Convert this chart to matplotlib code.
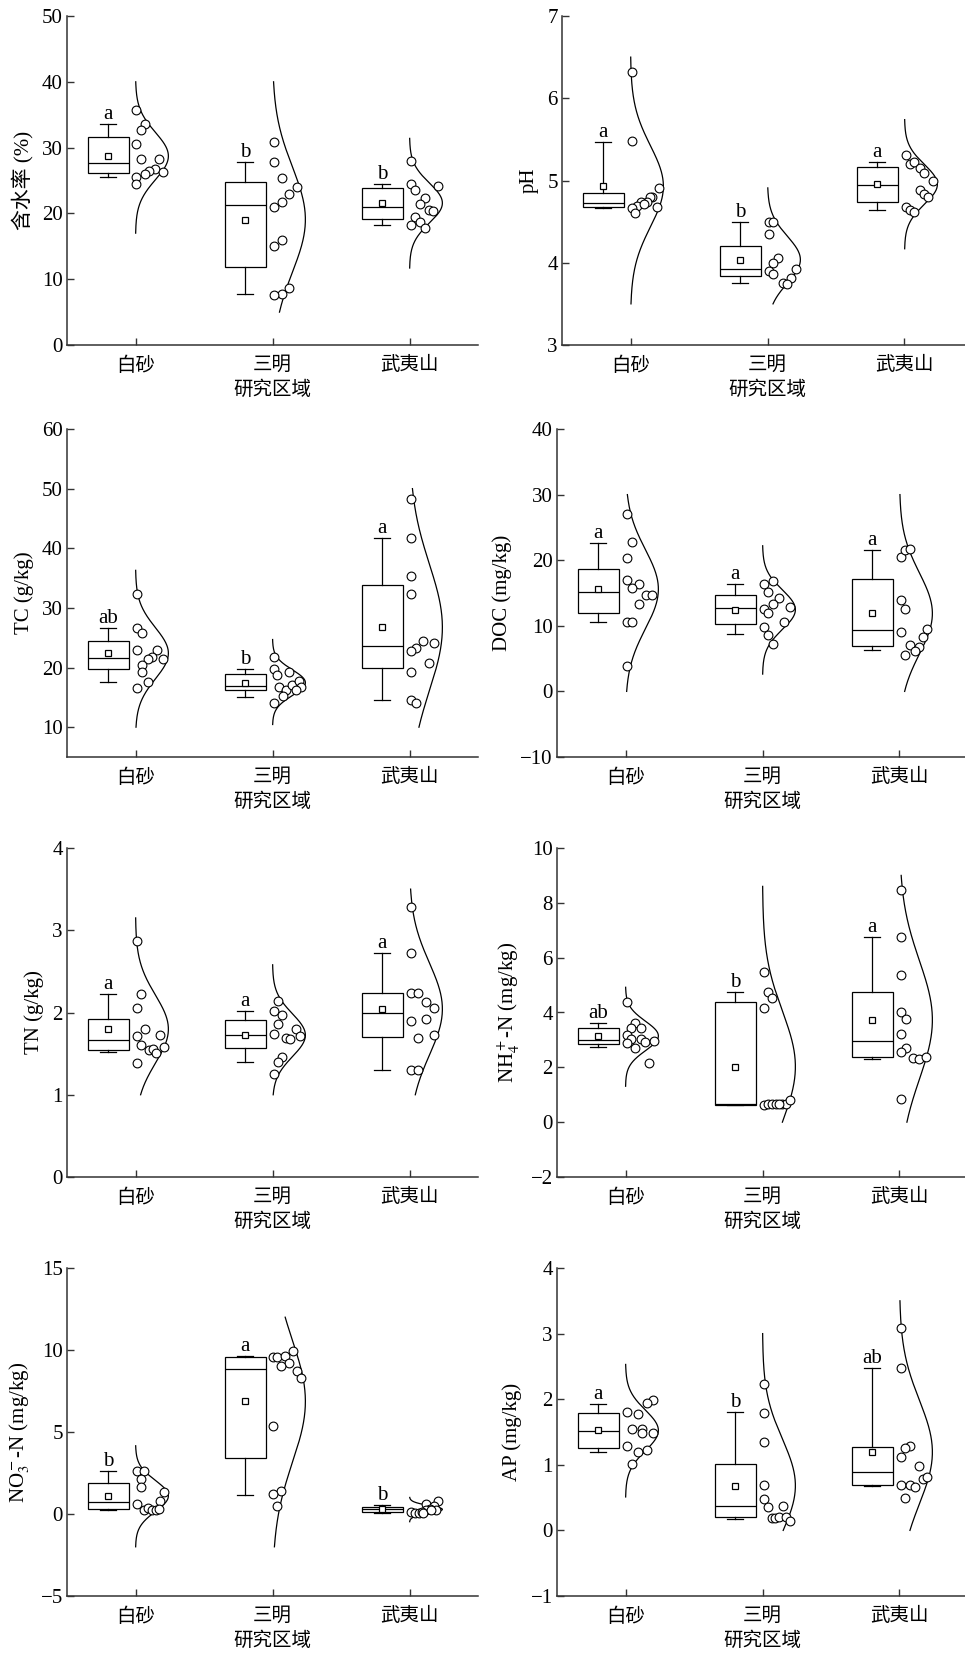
import numpy as np
import matplotlib
matplotlib.use('Agg')
import matplotlib.pyplot as plt

plt.rcParams['font.family'] = ['Liberation Serif', 'Noto Sans CJK SC']
plt.rcParams['mathtext.fontset'] = 'stix'
plt.rcParams['font.size'] = 14

groups = ['白砂', '三明', '武夷山']

# box stats per group: (q1, median, q3, whisker low, whisker high)
# curve range per group: (low, high)

# 含水率
w_pts = [[35.7, 33.6, 32.6, 30.6, 28.3, 28.3, 26.8, 26.4, 26.0, 26.3, 25.5, 24.5],
         [30.9, 27.8, 25.4, 24.0, 23.0, 21.8, 20.9, 16.0, 15.1, 8.6, 7.7, 7.6],
         [28.0, 24.4, 23.5, 24.1, 22.4, 21.5, 20.5, 20.3, 19.5, 18.7, 18.2, 17.8]]
w_jit = [[0.005, 0.07, 0.04, 0.005, 0.04, 0.17, 0.14, 0.10, 0.07, 0.20, 0.005, 0.005],
         [0.01, 0.01, 0.07, 0.18, 0.12, 0.07, 0.01, 0.07, 0.01, 0.12, 0.07, 0.01],
         [0.01, 0.01, 0.04, 0.21, 0.11, 0.08, 0.14, 0.17, 0.04, 0.08, 0.01, 0.11]]
w_box = [(26.1, 27.6, 31.6, 25.5, 33.6), (11.85, 21.3, 24.7, 7.7, 27.8), (19.1, 20.9, 23.8, 18.2, 24.4)]
w_curve = [(17.0, 40.0), (5.0, 40.0), (11.7, 31.4)]
w_sig = ['a', 'b', 'b']

# pH
ph_pts = [[6.32, 5.48, 4.91, 4.80, 4.80, 4.74, 4.74, 4.69, 4.67, 4.68, 4.61, 4.72],
          [4.50, 4.50, 4.35, 4.06, 4.00, 3.90, 3.86, 3.93, 3.82, 3.75, 3.74],
          [5.31, 5.20, 5.22, 5.15, 5.09, 4.99, 4.89, 4.84, 4.80, 4.68, 4.64, 4.62]]
ph_jit = [[0.01, 0.01, 0.21, 0.16, 0.14, 0.12, 0.08, 0.05, 0.01, 0.19, 0.03, 0.10],
          [0.01, 0.04, 0.01, 0.08, 0.04, 0.01, 0.04, 0.21, 0.17, 0.11, 0.14],
          [0.01, 0.04, 0.07, 0.11, 0.14, 0.21, 0.11, 0.14, 0.17, 0.01, 0.04, 0.07]]
ph_box = [(4.68, 4.73, 4.85, 4.67, 5.47), (3.84, 3.92, 4.20, 3.75, 4.50), (4.74, 4.95, 5.17, 4.64, 5.22)]
ph_curve = [(3.5, 6.5), (3.5, 4.91), (4.17, 5.74)]
ph_sig = ['a', 'b', 'a']

# TC
tc_pts = [[32.3, 26.6, 25.8, 22.9, 23.0, 21.7, 21.4, 21.4, 20.4, 19.2, 17.5, 16.6],
          [21.8, 19.8, 18.8, 19.3, 16.7, 16.25, 17.1, 17.7, 16.7, 16.25, 15.2, 14.0],
          [48.2, 41.75, 35.4, 32.3, 24.4, 24.1, 23.2, 22.8, 20.7, 19.3, 14.5, 14.1]]
tc_jit = [[0.01, 0.01, 0.05, 0.01, 0.16, 0.12, 0.09, 0.20, 0.05, 0.05, 0.09, 0.01],
          [0.01, 0.01, 0.03, 0.12, 0.05, 0.10, 0.14, 0.19, 0.21, 0.17, 0.08, 0.01],
          [0.01, 0.01, 0.01, 0.01, 0.10, 0.18, 0.05, 0.01, 0.14, 0.01, 0.01, 0.05]]
tc_box = [(19.8, 21.6, 24.4, 17.5, 26.6), (16.3, 16.9, 19.0, 15.1, 19.8), (20.0, 23.6, 33.8, 14.5, 41.75)]
tc_curve = [(10.0, 36.3), (10.45, 24.7), (10.0, 50.0)]
tc_sig = ['ab', 'b', 'a']

# DOC
doc_pts = [[27.0, 22.7, 20.4, 17.0, 16.3, 15.7, 14.7, 14.7, 13.35, 10.6, 10.6, 3.9],
           [16.4, 16.85, 15.2, 14.2, 13.35, 12.8, 12.5, 11.9, 10.6, 9.85, 8.6, 7.2],
           [20.5, 21.6, 21.7, 13.9, 12.6, 9.1, 9.5, 8.3, 7.0, 6.75, 6.2, 5.5]]
doc_jit = [[0.01, 0.05, 0.01, 0.01, 0.10, 0.05, 0.15, 0.19, 0.10, 0.01, 0.05, 0.01],
           [0.01, 0.08, 0.04, 0.12, 0.08, 0.20, 0.01, 0.04, 0.16, 0.01, 0.04, 0.08],
           [0.01, 0.04, 0.08, 0.01, 0.04, 0.01, 0.20, 0.17, 0.08, 0.14, 0.11, 0.04]]
doc_box = [(12.0, 15.2, 18.7, 10.6, 22.6), (10.2, 12.7, 14.7, 8.7, 16.4), (6.9, 9.3, 17.1, 6.3, 21.6)]
doc_curve = [(0.0, 30.0), (2.64, 22.2), (0.0, 30.0)]
doc_sig = ['a', 'a', 'a']

# TN
tn_pts = [[2.875, 2.22, 2.06, 1.80, 1.71, 1.73, 1.60, 1.55, 1.56, 1.51, 1.58, 1.38],
          [2.14, 2.02, 1.965, 1.855, 1.795, 1.735, 1.685, 1.68, 1.71, 1.455, 1.40, 1.25],
          [3.28, 2.725, 2.24, 2.24, 2.125, 2.06, 1.90, 1.92, 1.73, 1.69, 1.30, 1.30]]
tn_jit = [[0.01, 0.04, 0.01, 0.07, 0.01, 0.18, 0.04, 0.10, 0.13, 0.15, 0.21, 0.01],
          [0.04, 0.01, 0.07, 0.04, 0.17, 0.01, 0.10, 0.13, 0.20, 0.07, 0.04, 0.01],
          [0.01, 0.01, 0.01, 0.06, 0.12, 0.18, 0.01, 0.12, 0.18, 0.06, 0.01, 0.06]]
tn_box = [(1.55, 1.66, 1.925, 1.515, 2.22), (1.565, 1.726, 1.91, 1.40, 2.02), (1.705, 1.99, 2.24, 1.30, 2.725)]
tn_curve = [(1.0, 3.15), (1.0, 2.58), (1.0, 3.5)]
tn_sig = ['a', 'a', 'a']

# NH4+-N
nh_pts = [[4.37, 3.60, 3.45, 3.42, 3.18, 3.02, 3.02, 2.93, 2.97, 2.90, 2.71, 2.17],
          [5.49, 4.73, 4.53, 4.18, 0.62, 0.68, 0.66, 0.66, 0.66, 0.66, 0.80, 0.65],
          [8.48, 6.77, 5.37, 4.03, 3.75, 3.20, 2.69, 2.57, 2.35, 2.29, 2.39, 0.86]]
nh_jit = [[0.01, 0.07, 0.04, 0.11, 0.01, 0.04, 0.11, 0.14, 0.21, 0.01, 0.07, 0.17],
          [0.01, 0.04, 0.07, 0.01, 0.01, 0.04, 0.07, 0.10, 0.14, 0.17, 0.20, 0.12],
          [0.01, 0.01, 0.01, 0.01, 0.05, 0.01, 0.05, 0.01, 0.10, 0.14, 0.19, 0.01]]
nh_box = [(2.85, 3.0, 3.43, 2.73, 3.60), (0.64, 0.67, 4.37, 0.64, 4.73), (2.39, 2.96, 4.73, 2.29, 6.77)]
nh_curve = [(1.31, 4.92), (0.0, 8.6), (0.0, 9.0)]
nh_sig = ['ab', 'b', 'a']

# NO3--N
no_pts = [[2.63, 2.63, 2.11, 1.66, 1.36, 0.81, 0.63, 0.24, 0.35, 0.24, 0.24, 0.30],
          [9.94, 9.58, 9.56, 9.64, 9.21, 9.01, 8.71, 8.28, 5.38, 1.42, 1.19, 0.48],
          [0.79, 0.59, 0.48, 0.33, 0.24, 0.24, 0.12, 0.08, 0.08, 0.12, 0.05, 0.25]]
no_jit = [[0.01, 0.06, 0.04, 0.04, 0.21, 0.18, 0.01, 0.06, 0.09, 0.12, 0.15, 0.17],
          [0.15, 0.00, 0.03, 0.09, 0.12, 0.06, 0.18, 0.21, 0.005, 0.06, 0.005, 0.03],
          [0.21, 0.12, 0.18, 0.15, 0.19, 0.12, 0.01, 0.04, 0.07, 0.09, 0.10, 0.16]]
no_box = [(0.28, 0.71, 1.86, 0.24, 2.63), (3.39, 8.83, 9.56, 1.15, 9.64), (0.12, 0.28, 0.40, 0.08, 0.54)]
no_curve = [(-2.0, 4.16), (-2.0, 12.0), (-0.47, 1.01)]
no_sig = ['b', 'a', 'b']

# AP
ap_pts = [[1.985, 1.94, 1.81, 1.77, 1.54, 1.55, 1.49, 1.49, 1.28, 1.20, 1.22, 1.01],
          [2.23, 1.79, 1.34, 0.69, 0.48, 0.355, 0.375, 0.19, 0.19, 0.20, 0.21, 0.14],
          [3.08, 2.47, 1.29, 1.25, 1.12, 0.98, 0.78, 0.81, 0.69, 0.69, 0.665, 0.50]]
ap_jit = [[0.20, 0.16, 0.01, 0.09, 0.05, 0.12, 0.12, 0.20, 0.01, 0.09, 0.16, 0.05],
          [0.01, 0.01, 0.01, 0.01, 0.01, 0.04, 0.15, 0.07, 0.09, 0.12, 0.17, 0.20],
          [0.01, 0.01, 0.08, 0.04, 0.01, 0.14, 0.17, 0.20, 0.01, 0.08, 0.11, 0.04]]
ap_box = [(1.25, 1.51, 1.79, 1.20, 1.93), (0.20, 0.37, 1.01, 0.18, 1.80), (0.69, 0.89, 1.27, 0.675, 2.47)]
ap_curve = [(0.51, 2.53), (0.0, 3.0), (0.0, 3.5)]
ap_sig = ['a', 'b', 'ab']


def draw(ax, pts, jit, box, curve, sig, ylim, yticks, ylabel):
    stats = []
    for i in range(3):
        q1, med, q3, lo, hi = box[i]
        stats.append(dict(med=med, q1=q1, q3=q3, whislo=lo, whishi=hi,
                          mean=np.mean(pts[i]), fliers=[]))
    ax.bxp(stats, positions=np.arange(3) - 0.2, widths=0.3, capwidths=0.12,
           showmeans=True, patch_artist=True, manage_ticks=False,
           boxprops=dict(facecolor='white', edgecolor='black', linewidth=0.9),
           medianprops=dict(color='black', linewidth=0.9),
           whiskerprops=dict(color='black', linewidth=0.9),
           capprops=dict(color='black', linewidth=0.9),
           meanprops=dict(marker='s', markerfacecolor='white', markeredgecolor='black',
                          markersize=5, markeredgewidth=0.9))
    for i in range(3):
        y = np.array(pts[i])
        ax.scatter(i + np.array(jit[i]), y, s=40, facecolors='white',
                   edgecolors='black', linewidths=0.8, zorder=3)
        m, sd = y.mean(), y.std(ddof=1)
        yy = np.linspace(curve[i][0], curve[i][1], 300)
        xx = i + 0.24 * np.exp(-0.5 * ((yy - m) / sd) ** 2)
        ax.plot(xx, yy, color='black', linewidth=0.9, zorder=2)
        ax.annotate(sig[i], (i - 0.2, box[i][4]), xytext=(0, 0),
                    textcoords='offset points', ha='center', va='bottom', fontsize=15)
    ax.set_xlim(-0.5, 2.5)
    ax.set_ylim(*ylim)
    ax.set_yticks(yticks)
    ax.set_xticks(range(3))
    ax.set_xticklabels(groups)
    ax.set_xlabel('研究区域', labelpad=4)
    ax.set_ylabel(ylabel, labelpad=6, fontsize=15)
    for s in ['top', 'right']:
        ax.spines[s].set_visible(False)
    for s in ['left', 'bottom']:
        ax.spines[s].set_color('#333333')
        ax.spines[s].set_linewidth(1.1)
    ax.tick_params(direction='in', length=5, width=1.0, color='#333333', labelsize=14)
    ax.tick_params(axis='y', pad=3, labelsize=15)
    ax.tick_params(axis='x', pad=8)


fig = plt.figure(figsize=(9.65, 16.55), dpi=100)
W, H = 965, 1655


def add_ax(left, top, bottom):
    return fig.add_axes([left / W, 1 - bottom / H, 411 / W, (bottom - top) / H])


panels = [
    (67, 16, 345, w_pts, w_jit, w_box, w_curve, w_sig, (0, 50), range(0, 51, 10), '含水率 (%)'),
    (562, 16, 345, ph_pts, ph_jit, ph_box, ph_curve, ph_sig, (3, 7), range(3, 8), 'pH'),
    (67, 429, 757, tc_pts, tc_jit, tc_box, tc_curve, tc_sig, (5, 60), range(10, 61, 10), 'TC (g/kg)'),
    (557, 429, 757, doc_pts, doc_jit, doc_box, doc_curve, doc_sig, (-10, 40), range(-10, 41, 10), 'DOC (mg/kg)'),
    (67, 848, 1177, tn_pts, tn_jit, tn_box, tn_curve, tn_sig, (0, 4), range(0, 5), 'TN (g/kg)'),
    (557, 848, 1177, nh_pts, nh_jit, nh_box, nh_curve, nh_sig, (-2, 10), range(-2, 11, 2),
     r'NH$_4^+$-N (mg/kg)'),
    (67, 1268, 1596, no_pts, no_jit, no_box, no_curve, no_sig, (-5, 15), range(-5, 16, 5),
     r'NO$_3^-$-N (mg/kg)'),
    (557, 1268, 1596, ap_pts, ap_jit, ap_box, ap_curve, ap_sig, (-1, 4), range(-1, 5), 'AP (mg/kg)'),
]

for left, top, bottom, pts, jit, box, curve, sig, ylim, yt, yl in panels:
    ax = add_ax(left, top, bottom)
    draw(ax, pts, jit, box, curve, sig, ylim, yt, yl)

fig.savefig('out.png', dpi=100)
